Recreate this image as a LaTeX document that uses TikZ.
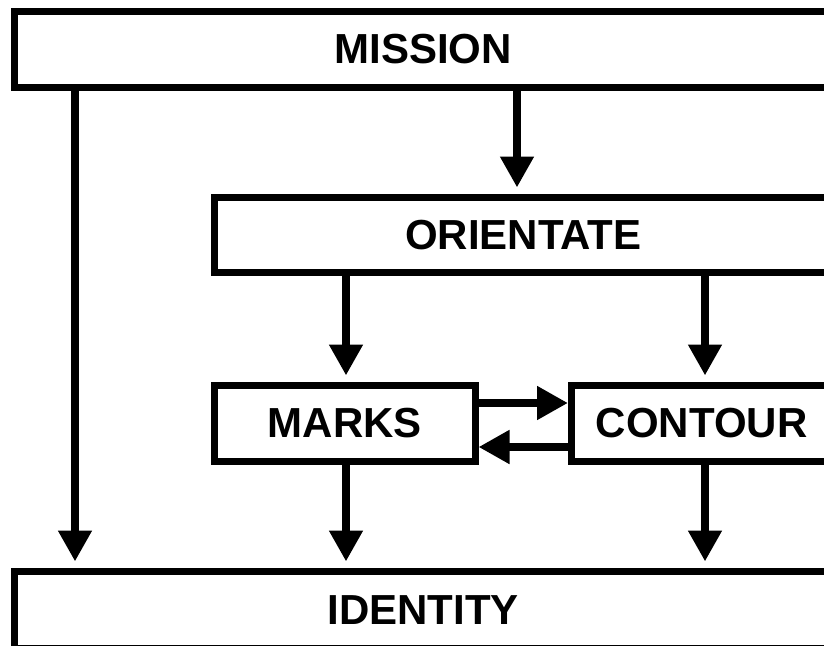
\documentclass[tikz,border=0pt]{standalone}
\usepackage{fontspec}
\setmainfont{Liberation Sans}
\usetikzlibrary{arrows.meta}
\begin{document}
\begin{tikzpicture}[x=1pt,y=-1pt,
  blk/.style={draw=black,line width=7pt,fill=white,rectangle,inner sep=0pt,
    font=\fontsize{42}{50}\selectfont\bfseries},
  arr/.style={line width=8pt,-{Triangle[width=32pt,length=31pt]}},
  varr/.style={arr,shorten >=6pt}]
\useasboundingbox (0,0) rectangle (824,645);
\clip (0,0) rectangle (824,645);
\fill[white] (0,0) rectangle (824,645);
\node[blk,minimum width=817.5pt,minimum height=76pt] (mission) at (423.25,49.5) {MISSION};
\node[blk,minimum width=617.5pt,minimum height=75.5pt] (orient) at (523.25,234.75) {ORIENTATE};
\node[blk,minimum width=260.5pt,minimum height=76pt] (marks) at (344.75,423) {MARKS};
\node[blk,minimum width=260.5pt,minimum height=76pt] (contour) at (701.75,423) {CONTOUR};
\node[blk,minimum width=817.5pt,minimum height=77.5pt] (identity) at (423.25,609.75) {IDENTITY};
\draw[varr] (mission.south -| 75,0) -- (identity.north -| 75,0);
\draw[varr] (mission.south -| 517,0) -- (orient.north -| 517,0);
\draw[varr] (orient.south -| 346,0) -- (marks.north -| 346,0);
\draw[varr] (orient.south -| 705,0) -- (contour.north -| 705,0);
\draw[varr] (marks.south -| 346,0) -- (identity.north -| 346,0);
\draw[varr] (contour.south -| 705,0) -- (identity.north -| 705,0);
\draw[arr] (marks.east |- 0,403) -- (contour.west |- 0,403);
\draw[arr] (contour.west |- 0,447) -- (marks.east |- 0,447);
\end{tikzpicture}
\end{document}
